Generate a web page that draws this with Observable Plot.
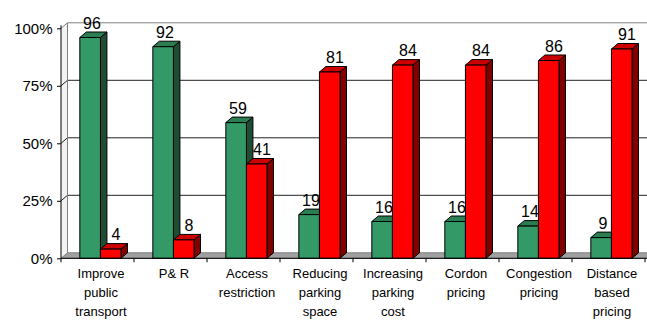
<!DOCTYPE html>
<html><head><meta charset="utf-8">
<script src="https://cdn.jsdelivr.net/npm/d3@7"></script>
<script src="https://cdn.jsdelivr.net/npm/@observablehq/plot@0.6"></script>
<style>
body{margin:0;background:#fff;}
#chart{width:647px;height:320px;overflow:hidden;}
</style>
</head><body><div id="chart"></div>
<script>
const categories = ["Improve\npublic\ntransport","P& R","Access\nrestriction","Reducing\nparking\nspace","Increasing\nparking\ncost","Cordon\npricing","Congestion\npricing","Distance\nbased\npricing"];
const greenValues = [96, 92, 59, 19, 16, 16, 14, 9];
const redValues = [4, 8, 41, 81, 84, 84, 86, 91];
const yTicks = [0, 0.25, 0.5, 0.75, 1];
const yTickLabels = ["0%", "25%", "50%", "75%", "100%"];

const bars = categories.flatMap((c, i) => [
  {cat: c, series: "green", value: greenValues[i] / 100, label: String(greenValues[i])},
  {cat: c, series: "red", value: redValues[i] / 100, label: String(redValues[i])}
]);

const DX = 6.5, DY = 5.5;
const COLORS = {
  green: {front: "#339966", top: "#2b7d52", side: "#1e4d34"},
  red: {front: "#ff0000", top: "#cc0000", side: "#800000"}
};

function scene(index, scales) {
  const x = scales.x, y = scales.y;
  const g = d3.create("svg:g");
  const [xa, xb] = x.range();
  const bw = x.bandwidth();
  const y0 = y(0), y1 = y(1);
  const pts = a => a.map(p => p.join(",")).join(" ");
  const poly = (a, fill, stroke) => g.append("polygon").attr("points", pts(a))
    .attr("fill", fill).attr("stroke", stroke || "none").attr("stroke-width", 1).attr("stroke-linejoin", "round");
  const pline = (a, stroke) => g.append("polyline").attr("points", pts(a))
    .attr("fill", "none").attr("stroke", stroke).attr("stroke-width", 1);
  // walls
  poly([[xa + DX, y1 - DY], [xb + DX, y1 - DY], [xb + DX, y0 - DY], [xa + DX, y0 - DY]], "#fff");
  poly([[xa, y1], [xa + DX, y1 - DY], [xa + DX, y0 - DY], [xa, y0]], "#f2f2f2");
  for (const t of yTicks.slice(1, -1)) {
    pline([[xa, y(t)], [xa + DX, y(t) - DY], [xb + DX, y(t) - DY]], "#222");
  }
  pline([[xa, y1], [xa + DX, y1 - DY], [xb + DX, y1 - DY]], "#808080");
  pline([[xa + DX, y1 - DY], [xa + DX, y0 - DY]], "#808080");
  // floor
  poly([[xa, y0], [xb, y0], [xb + DX, y0 - DY], [xa + DX, y0 - DY]], "#a0a0a0", "#808080");
  // bars
  for (const b of bars) {
    const w = 0.282 * bw;
    const xl = x(b.cat) + (b.series === "green" ? 0.217 * bw : 0.217 * bw + w);
    const xr = xl + w;
    const yt = y(b.value);
    const c = COLORS[b.series];
    poly([[xr, yt], [xr + DX, yt - DY], [xr + DX, y0 - DY], [xr, y0]], c.side, "#000");
    poly([[xl, yt], [xr, yt], [xr + DX, yt - DY], [xl + DX, yt - DY]], c.top, "#000");
    poly([[xl, yt], [xr, yt], [xr, y0], [xl, y0]], c.front, "#000");
  }
  // front axes
  pline([[xa, y1 - 3], [xa, y0]], "#000");
  pline([[xa, y0], [xb, y0]], "#000");
  for (let i = 0; i <= categories.length; ++i) {
    const xt = xa + i * bw;
    pline([[xt, y0], [xt, y0 + 4]], "#000");
  }
  return g.node();
}

const plot = Plot.plot({
  width: 647, height: 320,
  marginLeft: 61, marginRight: 0, marginTop: 0, marginBottom: 0,
  style: {fontFamily: "'Liberation Sans', Arial, sans-serif", background: "#fff", color: "#000"},
  x: {type: "band", domain: categories, range: [61, 651], padding: 0, axis: null},
  y: {domain: [0, 1], range: [258.3, 28.3], axis: null},
  marks: [
    scene,
    Plot.axisY(yTicks, {tickFormat: d => yTickLabels[yTicks.indexOf(d)], tickSize: 4, tickPadding: 5, fontSize: 15, label: null, stroke: "#000"}),
    Plot.text(bars.filter(d => d.series === "green"), {x: "cat", y: "value", text: "label", dx: -9, dy: -9.5, lineAnchor: "bottom", fontSize: 16, fill: "#000"}),
    Plot.text(bars.filter(d => d.series === "red"), {x: "cat", y: "value", text: "label", dx: 15, dy: -9.5, lineAnchor: "bottom", fontSize: 16, fill: "#000"}),
    Plot.text(categories, {x: d => d, y: () => 0, text: d => d, lineAnchor: "top", dy: 6, lineHeight: 1.44, fontSize: 13, fill: "#000"})
  ]
});
document.getElementById("chart").appendChild(plot);
</script>
</body></html>
